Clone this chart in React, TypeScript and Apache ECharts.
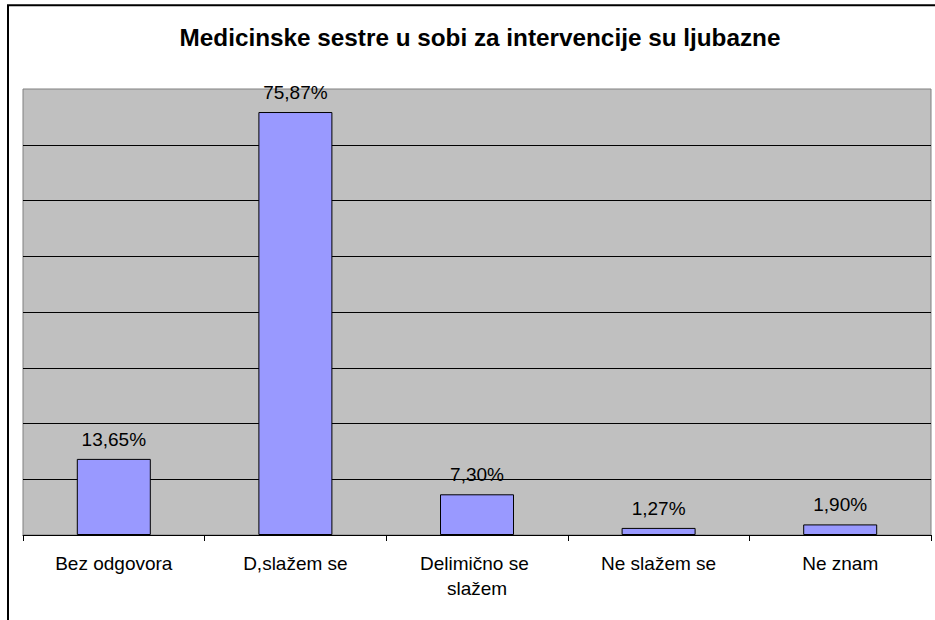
import React, { useEffect, useRef } from "react";
import * as echarts from "echarts";

const titleText = "Medicinske sestre u sobi za intervencije su ljubazne";
const categories = ["Bez odgovora", "D,slažem se", "Delimično se slažem", "Ne slažem se", "Ne znam"];
const percentValues = [13.65, 75.87, 7.3, 1.27, 1.9];
const axisMax = 80;
const axisInterval = 10;

const FONT = "'Liberation Sans', Arial, sans-serif";

export default function App() {
  const ref = useRef<HTMLDivElement>(null);
  useEffect(() => {
    if (!ref.current) return;
    const chart = echarts.init(ref.current, null, { renderer: "svg" });
    chart.setOption({
      animation: false,
      backgroundColor: "#ffffff",
      textStyle: { fontFamily: FONT },
      title: {
        text: titleText,
        left: 475,
        textAlign: "center",
        top: 20,
        textStyle: { fontFamily: FONT, fontSize: 24.3, fontWeight: "bold", color: "#000" },
      },
      grid: {
        left: 23,
        top: 89,
        width: 908,
        height: 446,
        show: true,
        backgroundColor: "#C0C0C0",
        borderColor: "#808080",
        borderWidth: 1,
      },
      xAxis: {
        type: "category",
        data: categories,
        axisLine: { show: true, lineStyle: { color: "#000", width: 1 } },
        axisTick: { show: true, length: 6, lineStyle: { color: "#000" } },
        axisLabel: {
          color: "#000",
          fontSize: 19,
          fontFamily: FONT,
          margin: 16,
          width: 150,
          overflow: "break",
          lineHeight: 25,
          interval: 0,
        },
      },
      yAxis: {
        type: "value",
        min: 0,
        max: axisMax,
        interval: axisInterval,
        axisLabel: { show: false },
        axisLine: { show: false },
        axisTick: { show: false },
        splitLine: { show: true, showMaxLine: false, lineStyle: { color: "#000", width: 1 } },
      },
      series: [
        {
          type: "bar",
          data: percentValues,
          barWidth: 74,
          itemStyle: { color: "#9999FF", borderColor: "#000", borderWidth: 1 },
          label: {
            show: true,
            position: "top",
            distance: 10,
            color: "#000",
            fontSize: 19,
            fontFamily: FONT,
            formatter: (p: any) => p.value.toFixed(2).replace(".", ",") + "%",
          },
        },
      ],
      graphic: [
        {
          type: "polyline",
          shape: { points: [[8, 640], [8, 5.3], [960, 5.3]] },
          style: { stroke: "#000", lineWidth: 2, fill: null },
          z: 100,
        },
      ],
    });
    return () => chart.dispose();
  }, []);
  return (
    <div
      ref={ref}
      style={{ position: "fixed", left: 0, top: 0, width: 935, height: 620 }}
    />
  );
}
